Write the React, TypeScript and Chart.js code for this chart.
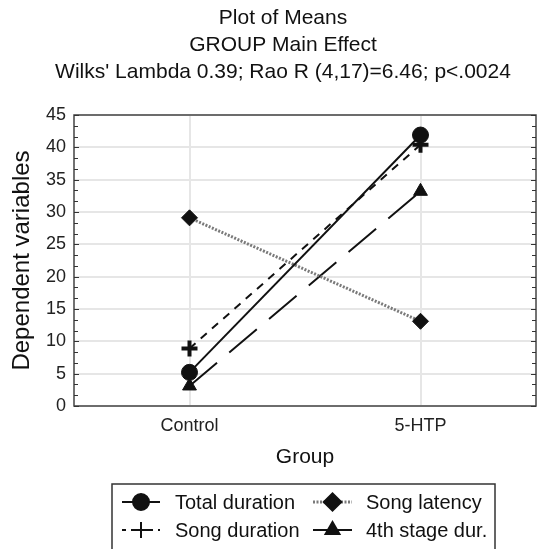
import React, { useEffect, useRef } from "react";
import { Chart, registerables } from "chart.js";
import { drawPoint } from "chart.js/helpers";
Chart.register(...registerables);

const categories = ["Control", "5-HTP"];
const totalDuration = [5.2, 41.9];
const songDuration = [8.9, 40.4];
const songLatency = [29.1, 13.1];
const fourthStage = [3.1, 33.2];
const seriesLabels = ["Total duration", "Song duration", "Song latency", "4th stage dur."];
const titleLines = ["Plot of Means", "GROUP Main Effect", "Wilks' Lambda 0.39; Rao R (4,17)=6.46; p<.0024"];
const yTitle = "Dependent variables";
const xTitle = "Group";
const yMin = 0;
const yMax = 45;
const yStep = 5;

const FONT = "'Liberation Sans', Arial, sans-serif";

const titlePlugin = {
  id: "titleLines",
  afterDraw(chart: any) {
    const ctx = chart.ctx;
    ctx.save();
    ctx.fillStyle = "#111";
    ctx.font = `21px ${FONT}`;
    ctx.textAlign = "center";
    ctx.textBaseline = "middle";
    const ys = [18, 45, 72];
    titleLines.forEach((t, i) => ctx.fillText(t, 283, ys[i]));
    ctx.restore();
  },
};

const framePlugin = {
  id: "frame",
  beforeDatasetsDraw(chart: any) {
    const { ctx, chartArea: a, scales } = chart;
    const y = scales.y;
    ctx.save();
    ctx.strokeStyle = "#444";
    ctx.lineWidth = 1.5;
    ctx.strokeRect(a.left, a.top, a.right - a.left, a.bottom - a.top);
    ctx.lineWidth = 1;
    ctx.strokeStyle = "#333";
    const n = Math.round((yMax - yMin) / (yStep / 3));
    for (let i = 0; i <= n; i++) {
      const v = yMin + (i * yStep) / 3;
      const py = Math.round(y.getPixelForValue(v)) + 0.5;
      const len = i % 3 === 0 ? 5 : 4;
      ctx.beginPath();
      ctx.moveTo(a.left, py);
      ctx.lineTo(a.left + len, py);
      ctx.moveTo(a.right, py);
      ctx.lineTo(a.right - len, py);
      ctx.stroke();
    }
    ctx.restore();
  },
};

const legendPlugin = {
  id: "customLegend",
  afterDraw(chart: any) {
    const ctx = chart.ctx;
    const ds = chart.data.datasets;
    ctx.save();
    ctx.strokeStyle = "#333";
    ctx.lineWidth = 1.5;
    ctx.strokeRect(112, 484, 383, 90);
    const cols = [
      { x0: 122, x1: 160, tx: 175 },
      { x0: 313, x1: 352, tx: 366 },
    ];
    const rows = [502, 530];
    const order = [0, 2, 1, 3];
    order.forEach((di, k) => {
      const d = ds[di];
      const c = cols[k % 2];
      const ry = rows[Math.floor(k / 2)];
      ctx.save();
      ctx.strokeStyle = d.borderColor;
      ctx.lineWidth = d.borderWidth;
      ctx.setLineDash(d.legendDash || d.borderDash || []);
      ctx.beginPath();
      ctx.moveTo(c.x0, ry);
      ctx.lineTo(c.x1, ry);
      ctx.stroke();
      ctx.setLineDash([]);
      ctx.fillStyle = d.pointBackgroundColor;
      ctx.strokeStyle = d.pointBorderColor;
      drawPoint(ctx, { pointStyle: d.pointStyle, radius: d.pointRadius, rotation: 0, borderWidth: d.pointBorderWidth }, (c.x0 + c.x1) / 2, ry);
      ctx.restore();
      ctx.fillStyle = "#111";
      ctx.font = `20px ${FONT}`;
      ctx.textAlign = "left";
      ctx.textBaseline = "middle";
      ctx.fillText(d.label, c.tx, ry + 1);
    });
    ctx.restore();
  },
};

export default function App() {
  const ref = useRef<HTMLCanvasElement>(null);
  useEffect(() => {
    document.body.style.margin = "0";
    const chart = new Chart(ref.current as HTMLCanvasElement, {
      type: "line",
      data: {
        labels: categories,
        datasets: [
          {
            label: seriesLabels[0],
            data: totalDuration,
            borderColor: "#111",
            borderWidth: 2,
            pointStyle: "circle",
            pointRadius: 8,
            pointBackgroundColor: "#111",
            pointBorderColor: "#111",
            pointBorderWidth: 1,
          },
          {
            label: seriesLabels[1],
            data: songDuration,
            borderColor: "#111",
            borderWidth: 2,
            borderDash: [8, 7],
            legendDash: [4, 5],
            pointStyle: "cross",
            pointRadius: 8,
            pointBackgroundColor: "#111",
            pointBorderColor: "#111",
            pointBorderWidth: 4,
          },
          {
            label: seriesLabels[2],
            data: songLatency,
            borderColor: "#7a7a7a",
            borderWidth: 3,
            borderDash: [2, 1.5],
            pointStyle: "rectRot",
            pointRadius: 8,
            pointBackgroundColor: "#111",
            pointBorderColor: "#111",
            pointBorderWidth: 1,
          },
          {
            label: seriesLabels[3],
            data: fourthStage,
            borderColor: "#111",
            borderWidth: 2,
            borderDash: [36, 16],
            legendDash: [],
            pointStyle: "triangle",
            pointRadius: 8,
            pointBackgroundColor: "#111",
            pointBorderColor: "#111",
            pointBorderWidth: 1,
          },
        ] as any,
      },
      options: {
        responsive: false,
        animation: false,
        layout: { autoPadding: false, padding: { top: 115, right: 2, bottom: 75, left: 0 } },
        plugins: { legend: { display: false }, title: { display: false }, tooltip: { enabled: false } },
        scales: {
          x: {
            type: "category",
            offset: true,
            grid: { color: "#e6e6e6", lineWidth: 2, drawTicks: false, offset: false },
            border: { display: false },
            ticks: { color: "#222", font: { size: 18, family: FONT }, padding: 9 },
            title: { display: true, text: xTitle, color: "#111", font: { size: 21, family: FONT }, padding: { top: 0, bottom: 4 } },
            afterFit: (s: any) => { s.height = 68; s.paddingLeft = 0; s.paddingRight = 0; },
          },
          y: {
            min: yMin,
            max: yMax,
            ticks: { stepSize: yStep, color: "#222", font: { size: 18, family: FONT }, padding: 8 },
            grid: { color: "#e6e6e6", lineWidth: 2, drawTicks: false },
            border: { display: false },
            title: { display: true, text: yTitle, color: "#111", font: { size: 24, family: FONT }, padding: { top: 8, bottom: 0 } },
            afterFit: (s: any) => { s.width = 74; s.paddingTop = 0; s.paddingBottom = 0; },
          },
        },
      },
      plugins: [framePlugin, titlePlugin, legendPlugin],
    });
    return () => chart.destroy();
  }, []);
  return (
    <div style={{ position: "absolute", left: 0, top: 0, width: 538, height: 549 }}>
      <canvas ref={ref} width={538} height={549} />
    </div>
  );
}
